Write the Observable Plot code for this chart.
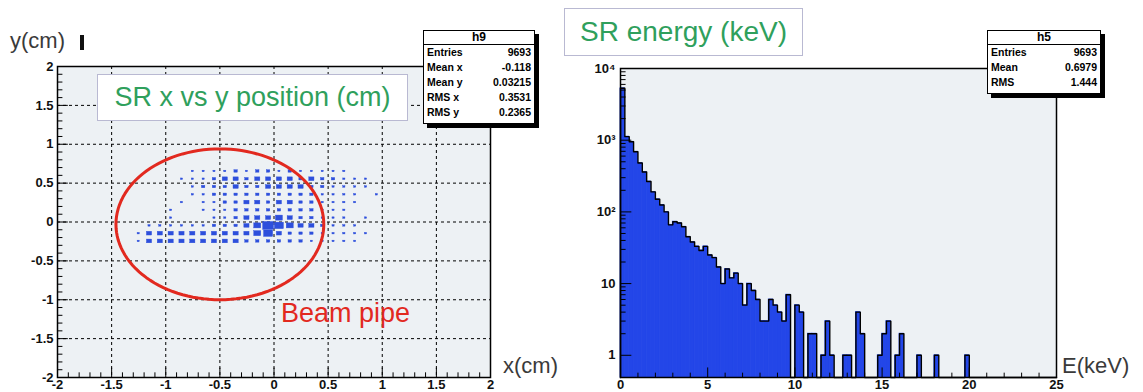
<!DOCTYPE html>
<html><head><meta charset="utf-8">
<script src="https://cdn.jsdelivr.net/npm/d3@7"></script>
<script src="https://cdn.jsdelivr.net/npm/@observablehq/plot@0.6"></script>
<style>
body{margin:0;background:#fff;}
#wrap{position:relative;width:1143px;height:392px;overflow:hidden;font-family:"Liberation Sans",Arial,sans-serif;}
#wrap > svg, #wrap > div{position:absolute;}
.axt{font-size:22px;color:#3a3a3a;line-height:1;}
.tbox{background:#fff;border:1px solid #b9b9d2;color:#2fa05c;display:flex;align-items:center;justify-content:center;white-space:nowrap;}
.stats{background:#fff;border:1px solid #000;box-shadow:4px 4px 0 #000;font-family:"Liberation Sans Narrow","Liberation Sans",Arial,sans-serif;font-weight:bold;font-size:10.5px;color:#000;}
.stats .hd{text-align:center;font-size:12px;border-bottom:1px solid #000;}
.stats .row{display:flex;justify-content:space-between;padding:0 3px;}
</style></head>
<body><div id="wrap"></div>
<script>
// ---------- left panel data: SR x vs y position (cm) ----------
const xCenters = [-1.25,-1.15,-1.05,-0.95,-0.85,-0.75,-0.65,-0.55,-0.45,-0.35,-0.25,-0.15,-0.05,0.05,0.15,0.25,0.35,0.45,0.55,0.65,0.75,0.85,0.95];
const yCenters = [0.65,0.55,0.45,0.35,0.25,0.15,0.05,-0.05,-0.15,-0.25];
const boxBinHalf = 0.05;
const boxCounts = [
  [0,0,0,0,0,40,40,40,40,100,40,100,100,40,100,40,40,40,40,40,0,0,0],
  [0,0,0,0,40,40,40,100,230,230,100,230,230,230,230,100,230,100,100,40,40,40,0],
  [0,0,0,0,0,40,100,100,100,230,100,100,230,230,230,230,100,100,40,40,40,40,0],
  [0,0,0,0,0,40,40,100,100,100,100,100,100,100,100,100,100,40,40,40,40,0,40],
  [0,0,0,0,40,0,40,40,100,100,230,230,100,230,230,100,100,40,40,40,40,0,0],
  [0,0,0,40,0,0,40,40,40,100,100,100,100,100,100,100,100,40,40,40,0,0,0],
  [0,0,0,40,0,0,0,40,40,100,230,230,230,420,230,100,100,40,40,40,0,40,0],
  [0,40,40,40,40,40,40,100,100,100,230,420,1000,700,420,230,230,100,40,40,40,0,0],
  [40,230,230,230,230,230,230,230,230,230,230,420,700,230,100,100,100,40,40,40,40,40,0],
  [40,230,230,230,230,230,230,230,230,230,100,100,100,100,100,100,40,40,40,40,40,0,0]
];
const xyTicks = [-2,-1.5,-1,-0.5,0,0.5,1,1.5,2];
const gridLines = [-1.5,-1,-0.5,0,0.5,1,1.5];
const beamPipe = {cx:-0.5, cy:-0.03, rx:0.96, ry:0.97};
const statsH9 = [["Entries","9693"],["Mean x","-0.118"],["Mean y","0.03215"],["RMS x","0.3531"],["RMS y","0.2365"]];

// ---------- right panel data: SR energy (keV) ----------
const energyBinWidth = 0.25;
const energyCounts = [
  5300,1120,950,690,480,360,265,190,150,125,
  100,66,73,70,62,45,38,33,29,33,
  25,23,17,10,16,12,14,10,5,10,
  8,6,3,3,6,5,4,3,7,0,
  5,4,0,2,2,0,1,3,1,0,
  0,1,1,0,4,2,0,0,0,1,
  2,3,0,1,2,0,0,0,1,0,
  0,0,1,0,0,0,0,0,0,1,
  0,0,0,0,0,0,0,0,0,0,
  0,0,0,0,0,0,0,0,0,0
];
const energyTicks = [0,5,10,15,20,25];
const logTicks = [1,10,100,1000,10000];
const logTickLabels = ["1","10","10²","10³","10⁴"];
const statsH5 = [["Entries","9693"],["Mean","0.6979"],["RMS","1.444"]];

const BG = "#edf1f4", BLUE_BOX = "#2d4fdc", BLUE_HIST = "#2346e8", RED = "#e2291f";
const axisStyle = {fontFamily:"'Liberation Sans Narrow','Liberation Sans',Arial,sans-serif", fontSize:"13px", fontWeight:"bold", color:"#111", background:"transparent", overflow:"visible"};

const wrap = document.getElementById("wrap");

// ---------- left plot ----------
const maxCount = d3.max(boxCounts.flat());
const boxes = [];
yCenters.forEach((yc, r) => xCenters.forEach((xc, c) => {
  const n = boxCounts[r][c];
  if (n > 0) {
    const h = boxBinHalf * Math.sqrt(n / maxCount);
    boxes.push({x1: xc - h, x2: xc + h, y1: yc - h, y2: yc + h});
  }
}));
const ellipsePts = d3.range(0, 361, 3).map(a => {
  const t = a * Math.PI / 180;
  return {x: beamPipe.cx + beamPipe.rx * Math.cos(t), y: beamPipe.cy + beamPipe.ry * Math.sin(t)};
});
const minorXY = d3.range(-20, 21).map(i => i / 10);

const left = Plot.plot({
  width: 570, height: 392, marginLeft: 57, marginRight: 80, marginTop: 66, marginBottom: 15,
  style: axisStyle,
  x: {domain: [-2, 2], ticks: xyTicks, tickSize: 0, tickPadding: 2, tickFormat: d => String(d), label: null},
  y: {domain: [-2, 2], ticks: xyTicks, tickSize: 0, tickPadding: 4, tickFormat: d => String(d), label: null},
  marks: [
    Plot.frame({fill: BG, stroke: null}),
    Plot.ruleX(gridLines, {stroke: "#000", strokeWidth: 1, strokeDasharray: "3,3"}),
    Plot.ruleY(gridLines, {stroke: "#000", strokeWidth: 1, strokeDasharray: "3,3"}),
    Plot.rect(boxes, {x1: "x1", x2: "x2", y1: "y1", y2: "y2", fill: BLUE_BOX, stroke: BLUE_BOX, strokeWidth: 0.4}),
    Plot.line(ellipsePts, {x: "x", y: "y", stroke: RED, strokeWidth: 3}),
    Plot.ruleX(minorXY, {x: d => d, y1: -2, y2: d => -2 + (Math.abs(d * 2 - Math.round(d * 2)) < 1e-9 ? 0.12 : 0.06), stroke: "#000", strokeWidth: 1}),
    Plot.ruleY(minorXY, {y: d => d, x1: -2, x2: d => -2 + (Math.abs(d * 2 - Math.round(d * 2)) < 1e-9 ? 0.1 : 0.05), stroke: "#000", strokeWidth: 1}),
    Plot.frame({stroke: "#000", strokeWidth: 1.5})
  ]
});
left.style.left = "0px"; left.style.top = "0px";
wrap.appendChild(left);

// ---------- right plot ----------
const yFloor = 0.49;
const histBins = energyCounts.map((c, i) => ({x1: i * energyBinWidth, x2: (i + 1) * energyBinWidth, c}));
const outline = [{x: 0, y: yFloor}]
  .concat(histBins.map(b => ({x: b.x1, y: Math.max(b.c, yFloor)})))
  .concat([{x: 25, y: yFloor}]);
const minorE = d3.range(0, 26);
const minorLog = [];
[1, 10, 100, 1000].forEach(dec => d3.range(1, 10).forEach(m => minorLog.push(dec * m)));
minorLog.push(10000);

const right = Plot.plot({
  width: 573, height: 392, marginLeft: 50, marginRight: 87, marginTop: 68, marginBottom: 15,
  style: axisStyle,
  x: {domain: [0, 25], ticks: energyTicks, tickSize: 0, tickPadding: 2, tickFormat: d => String(d), label: null},
  y: {type: "log", domain: [yFloor, 10000], ticks: logTicks, tickSize: 0, tickPadding: 5,
      tickFormat: d => logTickLabels[logTicks.indexOf(d)], label: null},
  marks: [
    Plot.frame({fill: BG, stroke: null}),
    Plot.rect(histBins.filter(b => b.c > 0), {x1: "x1", x2: "x2", y1: yFloor, y2: "c", fill: BLUE_HIST, stroke: BLUE_HIST, strokeWidth: 0.8}),
    Plot.line(outline, {x: "x", y: "y", curve: "step-after", stroke: "#000", strokeWidth: 1.4}),
    Plot.ruleX(minorE, {x: d => d, y1: yFloor, y2: d => yFloor * (d % 5 === 0 ? 1.36 : 1.15), stroke: "#000", strokeWidth: 1}),
    Plot.ruleY(minorLog, {y: d => d, x1: 0, x2: d => (logTicks.includes(d) ? 0.65 : 0.32), stroke: "#000", strokeWidth: 1}),
    Plot.frame({stroke: "#000", strokeWidth: 1.5})
  ]
});
right.style.left = "570px"; right.style.top = "0px";
wrap.appendChild(right);

// ---------- overlays (titles, labels, stats boxes) ----------
function addDiv(cls, css, html) {
  const d = document.createElement("div");
  d.className = cls; d.style.cssText = css; d.innerHTML = html;
  wrap.appendChild(d); return d;
}
addDiv("axt", "left:10px;top:30px;", "y(cm)");
addDiv("", "left:80px;top:35px;width:4px;height:15px;background:#111;", "");
addDiv("axt", "left:503px;top:355px;", "x(cm)");
addDiv("axt", "left:1062px;top:355px;", "E(keV)");
addDiv("tbox", "left:97px;top:74px;width:309px;height:45px;font-size:27px;", "SR x vs y position (cm)");
addDiv("tbox", "left:564px;top:8px;width:237px;height:46px;font-size:28px;", "SR energy (keV)");
addDiv("", "left:281px;top:298px;font-size:27px;color:" + RED + ";white-space:nowrap;", "Beam pipe");

function statsBox(name, rows, css, rowH) {
  const html = `<div class="hd" style="height:${rowH - 2}px;line-height:${rowH - 2}px">${name}</div>` +
    rows.map(r => `<div class="row" style="height:${rowH}px;line-height:${rowH}px"><span>${r[0]}</span><span>${r[1]}</span></div>`).join("");
  addDiv("stats", css, html);
}
statsBox("h9", statsH9, "left:423px;top:30px;width:110px;height:92px;", 15);
statsBox("h5", statsH5, "left:987px;top:30px;width:112px;height:62px;", 15);
</script>
</body></html>
